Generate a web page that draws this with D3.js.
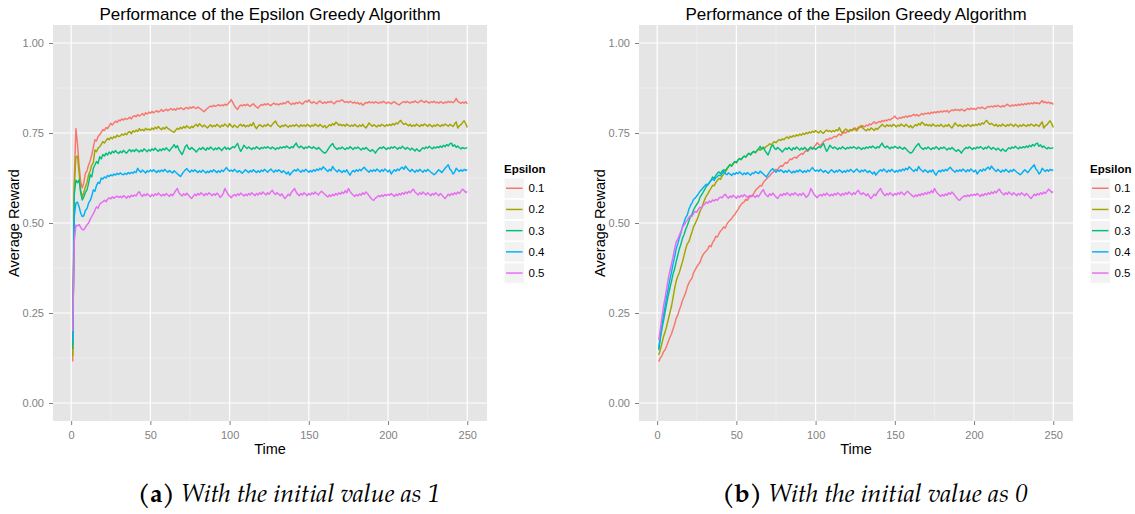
<!DOCTYPE html>
<html>
<head>
<meta charset="utf-8">
<script src="https://cdn.jsdelivr.net/npm/d3@7"></script>
<style>
  body { margin: 0; background: #ffffff; }
  svg { display: block; }
</style>
</head>
<body>
<svg id="chart" width="1135" height="514"></svg>
<script>
// ---- data -----------------------------------------------------------------
const epsilons = ["0.1", "0.2", "0.3", "0.4", "0.5"];
const seriesColors = ["#F8766D", "#A3A500", "#00BF7D", "#00B0F6", "#E76BF3"];
const xTickValues = [0, 50, 100, 150, 200, 250];
const yTickValues = [0, 0.25, 0.5, 0.75, 1];
const plotTitle = "Performance of the Epsilon Greedy Algorithm";
const captionTags = ["(a)", "(b)"];
const captionTexts = ["With the initial value as 1", "With the initial value as 0"];

// Average reward at time steps 1..250, initial value estimates = 1
const init1Eps01 = [
  .115,.620,.762,.720,.660,.615,.598,.612,.638,.645, .661,.672,.689,.710,.731,.728,.740,.745,.752,.759,
  .757,.765,.762,.770,.777,.772,.778,.783,.779,.786, .784,.789,.786,.791,.788,.790,.794,.789,.796,.798,
  .795,.801,.797,.800,.804,.799,.806,.803,.808,.805, .810,.806,.809,.812,.808,.811,.815,.810,.813,.816,
  .812,.815,.818,.814,.817,.813,.819,.816,.820,.818, .815,.819,.821,.817,.822,.819,.823,.820,.818,.822,
  .819,.816,.812,.809,.815,.818,.822,.825,.823,.827, .824,.826,.829,.825,.828,.826,.830,.827,.831,.836,
  .843,.835,.826,.820,.815,.823,.828,.825,.829,.826, .830,.827,.824,.828,.831,.826,.822,.819,.825,.829,
  .827,.831,.828,.832,.829,.826,.830,.833,.829,.831, .828,.832,.830,.834,.831,.836,.838,.832,.829,.833,
  .830,.835,.832,.836,.833,.830,.835,.839,.836,.842, .836,.833,.837,.834,.831,.836,.839,.835,.832,.836,
  .833,.837,.835,.838,.834,.831,.836,.839,.837,.840, .842,.838,.835,.837,.834,.838,.836,.833,.836,.832,
  .835,.830,.833,.827,.831,.835,.833,.837,.834,.836, .833,.837,.835,.832,.836,.834,.838,.835,.832,.836,
  .834,.831,.835,.837,.833,.830,.828,.832,.835,.837, .834,.838,.835,.833,.837,.835,.839,.836,.834,.838,
  .841,.837,.835,.839,.836,.833,.837,.835,.838,.834, .836,.833,.837,.835,.832,.836,.834,.838,.835,.837,
  .834,.838,.846,.838,.835,.832,.836,.833,.837,.831
];
const init1Eps02 = [
  .130,.600,.684,.686,.640,.590,.573,.585,.601,.612, .634,.645,.661,.668,.703,.698,.708,.712,.718,.726,
  .722,.729,.735,.731,.738,.734,.740,.737,.744,.740, .742,.747,.744,.749,.745,.752,.754,.748,.756,.753,
  .758,.754,.762,.757,.760,.756,.763,.759,.761,.758, .764,.760,.766,.762,.768,.763,.759,.765,.761,.767,
  .763,.760,.757,.754,.752,.758,.763,.760,.766,.762, .768,.764,.770,.766,.763,.769,.765,.771,.774,.768,
  .776,.771,.767,.772,.768,.764,.769,.773,.767,.771, .768,.774,.770,.766,.772,.769,.775,.771,.767,.776,
  .770,.766,.772,.768,.765,.771,.774,.769,.773,.767, .771,.768,.774,.770,.779,.768,.762,.769,.773,.770,
  .767,.772,.769,.775,.771,.768,.774,.779,.783,.774, .769,.766,.771,.768,.773,.770,.766,.771,.768,.772,
  .769,.774,.770,.767,.773,.769,.772,.768,.774,.771, .767,.772,.769,.775,.771,.768,.774,.770,.766,.771,
  .764,.768,.773,.770,.776,.772,.780,.777,.771,.774, .770,.773,.769,.775,.771,.768,.772,.769,.774,.770,
  .767,.772,.769,.774,.768,.764,.770,.778,.773,.769, .773,.770,.767,.772,.769,.774,.771,.768,.773,.770,
  .774,.771,.776,.772,.778,.775,.781,.785,.778,.774, .777,.773,.770,.774,.768,.772,.769,.775,.771,.768,
  .773,.770,.775,.772,.768,.774,.771,.767,.772,.769, .774,.771,.768,.773,.770,.775,.772,.769,.774,.771,
  .768,.775,.781,.764,.770,.773,.779,.784,.776,.765
];
const init1Eps03 = [
  .150,.580,.619,.612,.620,.585,.564,.572,.585,.592, .610,.634,.628,.652,.661,.671,.665,.684,.678,.690,
  .686,.694,.689,.697,.692,.699,.695,.701,.696,.693, .699,.695,.702,.697,.694,.700,.704,.698,.703,.699,
  .705,.701,.697,.703,.699,.706,.702,.698,.704,.700, .706,.702,.708,.703,.699,.705,.701,.707,.703,.709,
  .704,.700,.706,.711,.718,.709,.715,.704,.697,.690, .700,.712,.717,.708,.704,.710,.706,.702,.697,.703,
  .708,.704,.710,.706,.702,.709,.705,.711,.707,.703, .708,.704,.710,.706,.701,.707,.711,.705,.709,.704,
  .708,.712,.709,.715,.721,.709,.699,.706,.716,.711, .707,.711,.708,.704,.709,.706,.712,.708,.705,.710,
  .707,.711,.708,.712,.709,.706,.711,.708,.704,.709, .706,.711,.708,.712,.709,.714,.710,.707,.712,.709,
  .716,.722,.713,.709,.714,.710,.706,.711,.708,.713, .710,.707,.712,.708,.705,.710,.706,.701,.697,.694,
  .697,.704,.711,.716,.721,.712,.708,.704,.709,.706, .711,.707,.704,.709,.706,.712,.708,.704,.710,.707,
  .711,.707,.703,.708,.705,.710,.706,.702,.699,.704, .700,.694,.701,.706,.710,.707,.712,.708,.704,.709,
  .706,.711,.708,.712,.709,.705,.710,.707,.713,.709, .705,.710,.707,.703,.708,.704,.700,.706,.702,.699,
  .705,.709,.706,.711,.708,.713,.709,.706,.711,.708, .712,.709,.714,.710,.716,.712,.718,.714,.720,.722,
  .713,.717,.710,.714,.709,.706,.710,.707,.708,.709
];
const init1Eps04 = [
  .170,.520,.555,.558,.545,.528,.518,.520,.535,.540, .555,.562,.574,.592,.588,.604,.613,.610,.625,.622,
  .628,.625,.632,.629,.634,.631,.636,.633,.638,.635, .639,.636,.634,.638,.635,.640,.637,.641,.638,.643,
  .640,.652,.645,.641,.647,.643,.639,.645,.642,.647, .643,.648,.644,.640,.646,.642,.647,.643,.649,.645,
  .641,.646,.642,.639,.645,.641,.637,.633,.629,.636, .642,.647,.651,.645,.641,.647,.643,.648,.644,.640,
  .645,.641,.647,.643,.639,.644,.640,.646,.642,.648, .644,.640,.645,.641,.647,.643,.649,.654,.648,.644,
  .647,.643,.649,.645,.641,.646,.642,.638,.643,.648, .644,.640,.646,.642,.648,.644,.640,.645,.641,.647,
  .643,.649,.645,.641,.646,.650,.645,.641,.647,.643, .648,.644,.640,.645,.641,.636,.642,.633,.639,.644,
  .648,.644,.650,.645,.641,.647,.643,.649,.645,.641, .646,.642,.648,.644,.650,.646,.652,.648,.656,.652,
  .647,.643,.649,.645,.657,.650,.646,.642,.648,.644, .640,.646,.642,.648,.639,.633,.641,.646,.642,.648,
  .644,.649,.645,.651,.655,.649,.645,.641,.647,.643, .648,.644,.650,.646,.642,.648,.644,.650,.646,.642,
  .647,.636,.643,.648,.644,.650,.646,.652,.655,.649, .658,.652,.647,.643,.649,.645,.641,.647,.643,.649,
  .645,.641,.647,.643,.649,.645,.641,.638,.634,.637, .643,.648,.644,.640,.646,.652,.657,.662,.650,.645,
  .636,.641,.652,.647,.643,.648,.644,.649,.646,.648
];
const init1Eps05 = [
  .200,.450,.494,.492,.496,.488,.482,.481,.488,.495, .500,.510,.518,.526,.535,.545,.541,.552,.556,.559,
  .563,.559,.566,.570,.567,.573,.569,.572,.575,.571, .574,.570,.576,.573,.569,.575,.571,.577,.574,.578,
  .575,.583,.587,.578,.574,.580,.576,.581,.577,.573, .579,.575,.581,.577,.583,.579,.575,.580,.576,.582,
  .578,.574,.580,.576,.583,.590,.596,.584,.579,.575, .581,.577,.583,.578,.572,.568,.574,.580,.576,.582,
  .578,.584,.580,.576,.582,.578,.584,.580,.576,.581, .577,.583,.579,.571,.575,.582,.596,.588,.580,.575,
  .570,.576,.579,.575,.581,.577,.583,.579,.575,.580, .576,.582,.578,.584,.580,.576,.582,.578,.584,.580,
  .586,.582,.578,.584,.580,.587,.591,.583,.579,.584, .580,.576,.581,.573,.568,.574,.580,.576,.585,.590,
  .596,.586,.580,.576,.582,.578,.584,.580,.576,.582, .578,.584,.580,.586,.582,.578,.584,.588,.584,.580,
  .576,.572,.578,.574,.580,.576,.582,.578,.584,.580, .586,.582,.590,.584,.596,.588,.582,.578,.574,.579,
  .575,.581,.577,.584,.580,.586,.582,.576,.570,.565, .563,.569,.572,.576,.573,.578,.574,.579,.576,.580,
  .577,.582,.578,.574,.580,.576,.582,.578,.584,.580, .586,.582,.588,.584,.590,.594,.586,.582,.578,.584,
  .580,.586,.582,.578,.584,.580,.576,.582,.578,.584, .580,.576,.582,.578,.572,.568,.574,.580,.576,.582,
  .578,.584,.580,.586,.582,.588,.594,.590,.585,.587
];

// Average reward at time steps 1..250, initial value estimates = 0.
// Once a run has settled, its curve follows the same values as the run above.
const init0Eps01 = [
  .115,.125,.131,.142,.148,.158,.170,.182,.191,.205, .218,.235,.244,.258,.270,.285,.295,.306,.322,.333,
  .341,.347,.362,.370,.378,.385,.390,.403,.412,.418, .422,.428,.437,.434,.446,.452,.463,.461,.470,.478,
  .482,.489,.486,.497,.503,.508,.512,.519,.523,.531, .537,.545,.551,.556,.559,.566,.563,.571,.576,.574,
  .582,.590,.595,.599,.604,.603,.612,.618,.622,.627, .631,.636,.641,.645,.649,.647,.655,.659,.657,.663,
  .668,.666,.672,.678,.676,.681,.683,.680,.686,.689, .693,.691,.697,.701,.699,.704,.709,.706,.712,.716,
  .723,.718,.715,.720,.726,.729,.733,.731,.736,.734, .738,.741,.739,.744,.747,.743,.749,.752,.750,.755,
  .753,.758,.756,.761,.764,.760,.766,.768,.765,.770, .767,.772,.770,.775,.773,.777,.781,.776,.779,.782,
  .780,.785,.782,.786,.784,.788,.786,.790,.792,.797, .791,.789,.793,.791,.795,.793,.797,.794,.798,.796,
  .799,.802,.798,.801,.797,.800,.804,.801,.805,.803, .806,.803,.808,.805,.809,.806,.810,.807,.811,.808,
  .812,.809,.813,.807,.811,.814,.812,.816,.813,.815, .812,.816,.814,.811,.815,.818,.815,.819,.816,.818,
  .815,.819,.821,.818,.822,.819,.817,.821,.824,.822, .825,.822,.826,.823,.827,.824,.822,.826,.823,.827,
  .830,.826,.824,.828,.825,.829,.826,.830,.827,.831, .828,.832,.829,.833,.830,.834,.831,.835,.832,.834,
  .831,.835,.840,.834,.837,.833,.836,.832,.834,.829
];
const init0Eps02 = [
  .133,.148,.166,.184,.197,.213,.232,.250,.268,.292, .318,.338,.352,.362,.378,.392,.410,.428,.442,.448,
  .462,.475,.490,.498,.508,.519,.532,.541,.553,.565, .575,.581,.590,.596,.605,.603,.612,.618,.624,.621,
  .630,.636,.641,.648,.657,.663,.658,.664,.670,.667, .674,.679,.676,.682,.686,.683,.689,.692,.690,.695,
  .698,.696,.701,.705,.702,.707,.711,.708,.713,.716, .720,.717,.722,.726,.723,.728,.732,.729,.734,.731,
  .736,.739,.735,.741,.738,.743,.740,.745,.742,.747, .744,.749,.746,.751,.748,.753,.750,.755,.752,.757,
  .753,.750,.756,.752,.749,.755,.758,.754,.757,.753, .757,.754,.759,.756,.765,.755,.750,.757,.761,.758,
  .755,.760,.757,.763,.759,.756,.762,.767,.771,.763, .759,.756,.761,.758,.764,.761,.757,.763,.760,.765,
  ...init1Eps02.slice(140)
];
const init0Eps03 = [
  .147,.178,.205,.228,.252,.276,.298,.318,.337,.358, .372,.392,.410,.428,.441,.458,.468,.482,.493,.505,
  .518,.524,.536,.545,.552,.558,.571,.578,.585,.593, .601,.607,.612,.618,.628,.624,.632,.638,.642,.637,
  .644,.648,.645,.652,.656,.662,.658,.666,.671,.668, .675,.679,.676,.682,.686,.683,.690,.694,.689,.696,
  .699,.695,.701,.706,.713,.705,.710,.701,.695,.689,
  ...init1Eps03.slice(70)
];
const init0Eps04 = [
  .152,.185,.215,.242,.268,.295,.318,.342,.362,.385, .405,.428,.442,.458,.472,.490,.502,.515,.522,.538,
  .548,.556,.566,.569,.575,.581,.588,.592,.598,.603, .608,.606,.613,.619,.622,.618,.626,.629,.633,.631,
  .638,.643,.637,.634,.639,.636,.632,.638,.635,.640, .637,.642,.638,.634,.639,.635,.640,.636,.633,.639,
  .637,.643,.640,.637,.644,.640,.636,.632,.628,.635,
  ...init1Eps04.slice(70)
];
const init0Eps05 = [
  .175,.205,.238,.268,.292,.318,.345,.366,.385,.405, .428,.447,.455,.466,.476,.488,.494,.502,.508,.515,
  .520,.518,.527,.532,.530,.538,.544,.541,.549,.552, .558,.555,.561,.558,.564,.561,.566,.563,.569,.572,
  .570,.576,.580,.573,.569,.575,.571,.577,.573,.569, .575,.571,.577,.573,.579,.575,.571,.576,.572,.578,
  .575,.571,.577,.573,.580,.587,.593,.582,.577,.573,
  ...init1Eps05.slice(70)
];

// ---- layout ---------------------------------------------------------------
const panels = [
  { series: [init1Eps01, init1Eps02, init1Eps03, init1Eps04, init1Eps05], tag: captionTags[0], caption: captionTexts[0] },
  { series: [init0Eps01, init0Eps02, init0Eps03, init0Eps04, init0Eps05], tag: captionTags[1], caption: captionTexts[1] }
];

const PANEL_STEP = 586;
const PANEL_LEFT = 53;
const PANEL_W = 434;
const PANEL_TOP = 25;
const PANEL_BOTTOM = 421;
const SANS = "'Liberation Sans', Arial, Helvetica, sans-serif";
const SERIF = "'Palatino Linotype', Palatino, 'URW Palladio L', 'TeX Gyre Pagella', 'Liberation Serif', serif";
const GREY_TEXT = "#7F7F7F";

const svg = d3.select("#chart");

panels.forEach((panel, pi) => {
  const left = PANEL_LEFT + pi * PANEL_STEP;
  const g = svg.append("g");

  const x = d3.scaleLinear().domain([-11.45, 262.45]).range([left, left + PANEL_W]);
  const y = d3.scaleLinear().domain([-0.05, 1.05]).range([PANEL_BOTTOM, PANEL_TOP]);

  // panel background
  g.append("rect")
    .attr("x", left).attr("y", PANEL_TOP)
    .attr("width", PANEL_W).attr("height", PANEL_BOTTOM - PANEL_TOP)
    .attr("fill", "#E5E5E5");

  // minor grid lines sit halfway between major ticks
  const xMinor = xTickValues.slice(0, -1).map((v, i) => (v + xTickValues[i + 1]) / 2);
  const yMinor = yTickValues.slice(0, -1).map((v, i) => (v + yTickValues[i + 1]) / 2);
  const grid = g.append("g");
  grid.selectAll("line.xminor").data(xMinor).join("line")
    .attr("x1", d => x(d)).attr("x2", d => x(d))
    .attr("y1", PANEL_TOP).attr("y2", PANEL_BOTTOM)
    .attr("stroke", "#F2F2F2").attr("stroke-width", 0.6);
  grid.selectAll("line.yminor").data(yMinor).join("line")
    .attr("y1", d => y(d)).attr("y2", d => y(d))
    .attr("x1", left).attr("x2", left + PANEL_W)
    .attr("stroke", "#F2F2F2").attr("stroke-width", 0.6);
  grid.selectAll("line.xmajor").data(xTickValues).join("line")
    .attr("x1", d => x(d)).attr("x2", d => x(d))
    .attr("y1", PANEL_TOP).attr("y2", PANEL_BOTTOM)
    .attr("stroke", "#FFFFFF").attr("stroke-width", 1.2);
  grid.selectAll("line.ymajor").data(yTickValues).join("line")
    .attr("y1", d => y(d)).attr("y2", d => y(d))
    .attr("x1", left).attr("x2", left + PANEL_W)
    .attr("stroke", "#FFFFFF").attr("stroke-width", 1.2);

  // reward curves, one per epsilon
  const line = d3.line().x((d, i) => x(i + 1)).y(d => y(d));
  g.append("g").selectAll("path").data(panel.series).join("path")
    .attr("d", line)
    .attr("fill", "none")
    .attr("stroke", (d, i) => seriesColors[i])
    .attr("stroke-width", 1.45)
    .attr("stroke-linejoin", "round");

  // axes
  const xAxis = g.append("g")
    .attr("transform", `translate(0,${PANEL_BOTTOM})`)
    .call(d3.axisBottom(x).tickValues(xTickValues).tickSize(4).tickPadding(6).tickFormat(d3.format("d")));
  const yAxis = g.append("g")
    .attr("transform", `translate(${left},0)`)
    .call(d3.axisLeft(y).tickValues(yTickValues).tickSize(4).tickPadding(5).tickFormat(d3.format(".2f")));
  [xAxis, yAxis].forEach(a => {
    a.select(".domain").remove();
    a.selectAll(".tick line").attr("stroke", GREY_TEXT).attr("stroke-width", 1);
    a.selectAll(".tick text")
      .attr("fill", GREY_TEXT)
      .style("font-family", SANS)
      .style("font-size", "11px");
  });

  // titles
  const cx = left + PANEL_W / 2;
  g.append("text")
    .attr("x", cx).attr("y", 20)
    .attr("text-anchor", "middle")
    .style("font-family", SANS).style("font-size", "17px")
    .attr("fill", "#000")
    .text(plotTitle);
  g.append("text")
    .attr("x", cx).attr("y", 454)
    .attr("text-anchor", "middle")
    .style("font-family", SANS).style("font-size", "14.5px")
    .attr("fill", "#000")
    .text("Time");
  g.append("text")
    .attr("transform", `translate(${left - 34},${(PANEL_TOP + PANEL_BOTTOM) / 2}) rotate(-90)`)
    .attr("text-anchor", "middle")
    .style("font-family", SANS).style("font-size", "14.5px")
    .attr("fill", "#000")
    .text("Average Reward");

  // legend
  const lg = g.append("g").attr("transform", `translate(${left + 451},0)`);
  lg.append("text")
    .attr("x", 0).attr("y", 173)
    .style("font-family", SANS).style("font-size", "11.5px").style("font-weight", "bold")
    .attr("fill", "#000")
    .text("Epsilon");
  const keys = lg.selectAll("g.key").data(epsilons).join("g")
    .attr("transform", (d, i) => `translate(0,${178 + i * 21.2})`);
  keys.append("rect")
    .attr("width", 20.5).attr("height", 20.5)
    .attr("fill", "#F2F2F2").attr("stroke", "#FFFFFF").attr("stroke-width", 1);
  keys.append("line")
    .attr("x1", 2).attr("x2", 18.5).attr("y1", 10.25).attr("y2", 10.25)
    .attr("stroke", (d, i) => seriesColors[i]).attr("stroke-width", 1.45);
  keys.append("text")
    .attr("x", 24.5).attr("y", 14.3)
    .style("font-family", SANS).style("font-size", "11.5px")
    .attr("fill", "#000")
    .text(d => d);

  // caption below the panel
  const cap = g.append("text")
    .attr("x", 289 + pi * PANEL_STEP).attr("y", 502)
    .attr("text-anchor", "middle")
    .style("font-family", SERIF).style("font-size", "25px")
    .attr("fill", "#000");
  cap.append("tspan").style("font-weight", "bold").text(panel.tag);
  cap.append("tspan").style("font-style", "italic").text(" " + panel.caption);
});
</script>
</body>
</html>
